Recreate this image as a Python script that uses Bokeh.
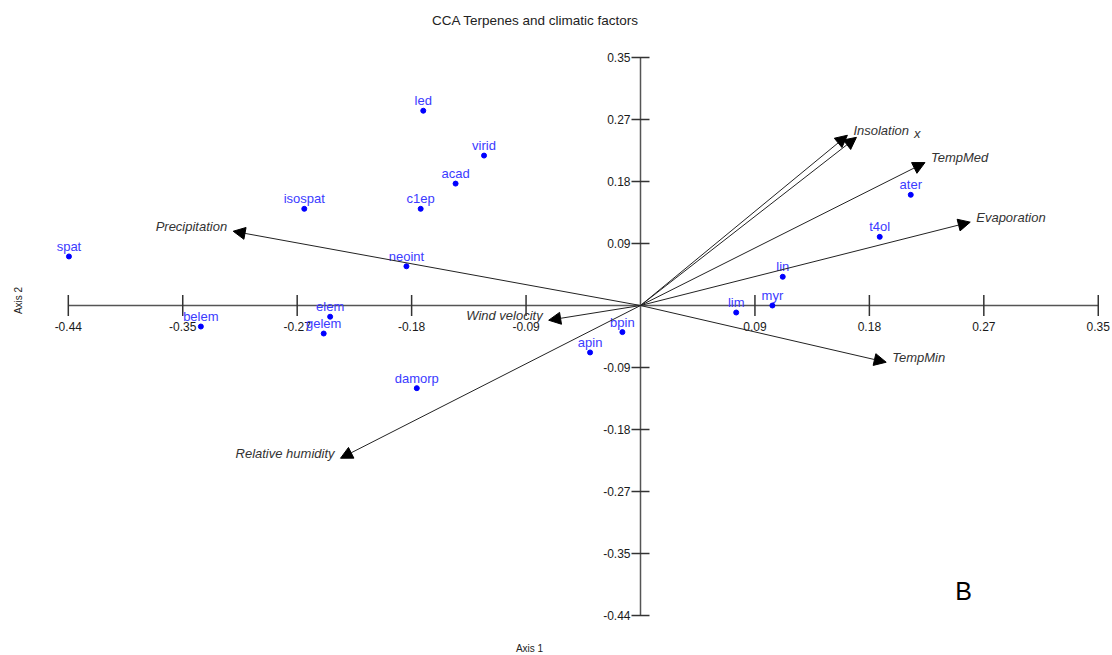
import numpy as np
from bokeh.plotting import figure
from bokeh.models import ColumnDataSource, Arrow, NormalHead, Label, Range1d
from bokeh.core.properties import value
from bokeh.embed import file_html
from bokeh.resources import INLINE

# ---------------- data ----------------
species = ["spat", "belem", "isospat", "led", "virid", "acad", "c1ep", "neoint",
           "elem", "gelem", "damorp", "apin", "bpin", "lim", "myr", "lin", "t4ol", "ater"]
axis1 = [-0.442, -0.340, -0.260, -0.168, -0.121, -0.143, -0.170, -0.181,
         -0.240, -0.245, -0.173, -0.039, -0.014, 0.074, 0.102, 0.110, 0.185, 0.209]
axis2 = [0.070, -0.030, 0.138, 0.278, 0.214, 0.174, 0.138, 0.056,
         -0.016, -0.040, -0.118, -0.067, -0.038, -0.010, 0.000, 0.041, 0.098, 0.158]

factors = ["Precipitation", "Wind velocity", "Relative humidity", "TempMin",
           "Evaporation", "TempMed", "Insolation", ""]
f_axis1 = [-0.315, -0.071, -0.232, 0.190, 0.255, 0.220, 0.160, 0.167]
f_axis2 = [0.106, -0.021, -0.218, -0.081, 0.119, 0.204, 0.243, 0.240]

extra_text = ["x"]
extra_x = [0.214]
extra_y = [0.246]

tick_values = [-0.4425, -0.354, -0.2655, -0.177, -0.0885, 0.0885, 0.177, 0.2655, 0.354]
tick_labels = ["-0.44", "-0.35", "-0.27", "-0.18", "-0.09", "0.09", "0.18", "0.27", "0.35"]

title_text = "CCA Terpenes and climatic factors"

# ---------------- layout ----------------
W, H = 1112, 655
OX, OY = 640, 305          # origin in canvas pixels
SX, SY = 1293.1, 700.6     # pixels per unit

FONT = value("Liberation Sans")
FNAME = "Liberation Sans"

p = figure(width=W, height=H, output_backend="svg", toolbar_location=None,
           x_range=Range1d(-OX / SX, (W - OX) / SX),
           y_range=Range1d(-(H - OY) / SY, OY / SY),
           x_axis_type=None, y_axis_type=None, min_border=0)
p.min_border_left = p.min_border_right = p.min_border_top = p.min_border_bottom = 0
p.grid.visible = False
p.outline_line_color = None
p.background_fill_color = "white"
p.border_fill_color = "white"

# axes through origin
lo, hi = tick_values[0], tick_values[-1]
p.segment(x0=[lo, 0], y0=[0, lo], x1=[hi, 0], y1=[0, hi], line_color="#555555", line_width=1.5)
p.scatter(x=tick_values, y=[0] * len(tick_values), marker="dash", size=21, angle=np.pi / 2,
          line_color="#333333", line_width=1.5)
p.scatter(x=[0] * len(tick_values), y=tick_values, marker="dash", size=18,
          line_color="#333333", line_width=1.5)
p.text(x=tick_values, y=[0] * len(tick_values), text=tick_labels, y_offset=21,
       text_align="center", text_baseline="middle", text_font=FONT,
       text_font_size="12px", text_color="#1a1a1a")
p.text(x=[0] * len(tick_values), y=tick_values, text=tick_labels, x_offset=-10,
       text_align="right", text_baseline="middle", text_font=FONT,
       text_font_size="12px", text_color="#1a1a1a")

# arrows for climatic factors
n = len(factors)
asrc = ColumnDataSource(dict(x0=[0] * n, y0=[0] * n, x1=f_axis1, y1=f_axis2))
p.add_layout(Arrow(end=NormalHead(size=12, fill_color="black", line_color="black"),
                   x_start="x0", y_start="y0", x_end="x1", y_end="y1",
                   source=asrc, line_color="#222222", line_width=1))

right = [i for i in range(n) if f_axis1[i] > 0]
left = [i for i in range(n) if f_axis1[i] <= 0]
p.text(x=[f_axis1[i] for i in right], y=[f_axis2[i] for i in right],
       text=[factors[i] for i in right], x_offset=6, y_offset=-5,
       text_align="left", text_baseline="middle", text_font=FONT,
       text_font_style="italic", text_font_size="13px", text_color="#333333")
p.text(x=[f_axis1[i] for i in left], y=[f_axis2[i] for i in left],
       text=[factors[i] for i in left], x_offset=-6, y_offset=-5,
       text_align="right", text_baseline="middle", text_font=FONT,
       text_font_style="italic", text_font_size="13px", text_color="#333333")
p.text(x=extra_x, y=extra_y, text=extra_text, text_align="center", text_baseline="middle",
       text_font=FONT, text_font_style="italic", text_font_size="13px", text_color="#333333")

# species scores
p.scatter(x=axis1, y=axis2, size=5, color="#0000ff")
p.text(x=axis1, y=axis2, text=species, y_offset=-10, text_align="center",
       text_baseline="middle", text_font=FONT, text_font_size="13px", text_color="#3b3bff")

# titles / annotations
p.add_layout(Label(x=535, y=H - 20, x_units="screen", y_units="screen", text=title_text,
                   text_align="center", text_baseline="middle", text_font=FNAME,
                   text_font_size="13.5px", text_color="#222222"))
p.add_layout(Label(x=529, y=H - 648, x_units="screen", y_units="screen", text="Axis 1",
                   text_align="center", text_baseline="middle", text_font=FNAME,
                   text_font_size="10px", text_color="#222222"))
p.add_layout(Label(x=18, y=H - 300, x_units="screen", y_units="screen", text="Axis 2",
                   angle=np.pi / 2, text_align="center", text_baseline="middle",
                   text_font=FNAME, text_font_size="10px", text_color="#222222"))
p.add_layout(Label(x=963, y=H - 590, x_units="screen", y_units="screen", text="B",
                   text_align="center", text_baseline="middle", text_font=FNAME,
                   text_font_size="25px", text_color="black"))

open("out.html", "w").write(file_html(p, INLINE))
